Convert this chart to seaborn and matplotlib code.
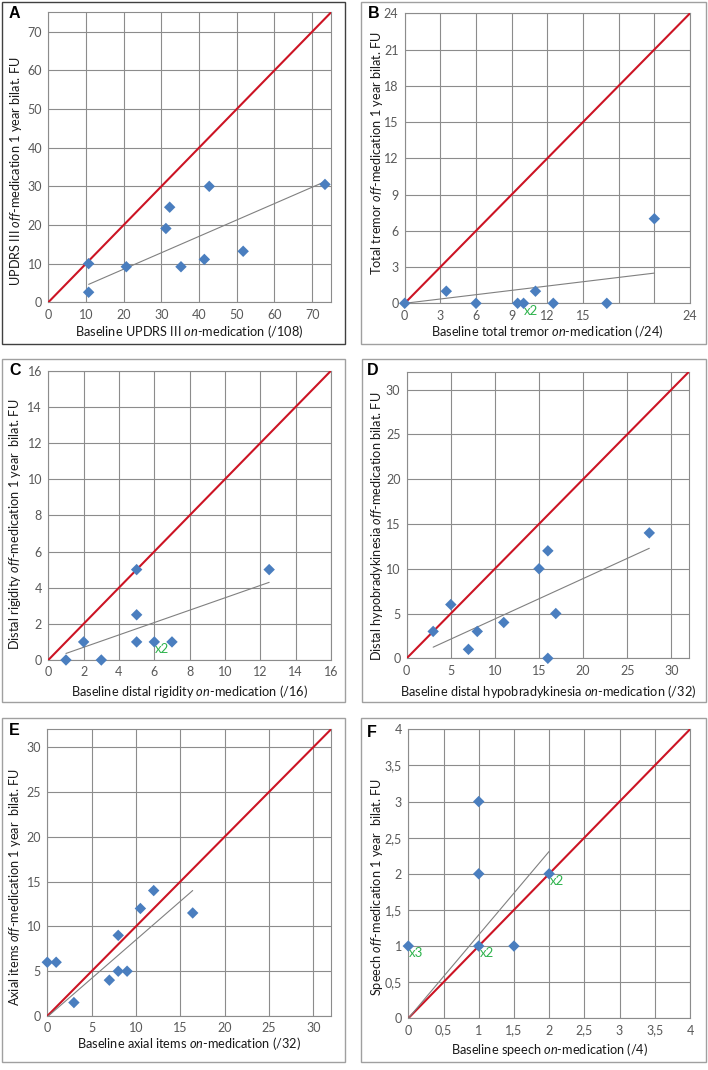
import numpy as np
import pandas as pd
import matplotlib
matplotlib.use("Agg")
import matplotlib.pyplot as plt
from matplotlib.patches import Rectangle
import seaborn as sns

# ---------------- data ----------------
a_x = [10.7, 10.7, 20.7, 31.2, 32.2, 35.2, 41.4, 42.7, 51.7, 73.4]
a_y = [10.0, 2.6, 9.2, 19.1, 24.6, 9.2, 11.1, 30.0, 13.2, 30.5]
a_trend = [0.424, 0.1]          # slope, intercept

b_x = [0, 3.5, 6, 9.5, 10, 11, 12.5, 17, 21]
b_y = [0, 1, 0, 0, 0, 1, 0, 0, 7]
b_trend = [0.119, 0.0]
b_dup_x = [10]
b_dup_y = [0]
b_dup_lbl = ["x2"]

c_x = [1, 2, 3, 5, 5, 5, 6, 7, 12.5]
c_y = [0, 1, 0, 5, 2.5, 1, 1, 1, 5]
c_trend = [0.342, 0.02]
c_dup_x = [6]
c_dup_y = [1]
c_dup_lbl = ["x2"]

d_x = [3, 5, 7, 8, 11, 15, 16, 16, 16.9, 27.5]
d_y = [3, 6, 1, 3, 4, 10, 12, 0, 5, 14]
d_trend = [0.4506, -0.11]

e_x = [0, 1, 3, 7, 8, 8, 9, 10.5, 12, 16.4]
e_y = [6, 6, 1.5, 4, 5, 9, 5, 12, 14, 11.5]
e_trend = [0.86, -0.1]

f_x = [0, 1, 1, 1, 1.5, 2]
f_y = [1, 1, 2, 3, 1, 2]
f_trend = [1.155, 0.0]
f_dup_x = [0, 1, 2]
f_dup_y = [1, 1, 2]
f_dup_lbl = ["x3", "x2", "x2"]

a_ticks = [0, 10, 20, 30, 40, 50, 60, 70]
b_ticks = [0, 3, 6, 9, 12, 15, 18, 21, 24]
b_xticklabels = ["0", "3", "6", "9", "12", "15", "", "", "24"]
c_ticks = [0, 2, 4, 6, 8, 10, 12, 14, 16]
d_ticks = [0, 5, 10, 15, 20, 25, 30]
f_ticks = [0, 0.5, 1, 1.5, 2, 2.5, 3, 3.5, 4]

a_lim = 75
b_lim = 24
c_lim = 16
d_lim = 32
e_lim = 32
f_lim = 4

a_xlabel = r"Baseline UPDRS III $\mathit{on}$-medication (/108)"
a_ylabel = r"UPDRS III $\mathit{off}$-medication 1 year bilat. FU"
b_xlabel = r"Baseline total tremor $\mathit{on}$-medication (/24)"
b_ylabel = r"Total tremor $\mathit{off}$-medication 1 year bilat. FU"
c_xlabel = r"Baseline distal rigidity $\mathit{on}$-medication (/16)"
c_ylabel = r"Distal rigidity $\mathit{off}$-medication 1 year  bilat. FU"
d_xlabel = r"Baseline distal hypobradykinesia $\mathit{on}$-medication (/32)"
d_ylabel = r"Distal hypobradykinesia $\mathit{off}$-medication bilat. FU"
e_xlabel = r"Baseline axial items $\mathit{on}$-medication (/32)"
e_ylabel = r"Axial items $\mathit{off}$-medication 1 year  bilat. FU"
f_xlabel = r"Baseline speech $\mathit{on}$-medication (/4)"
f_ylabel = r"Speech $\mathit{off}$-medication 1 year  bilat. FU"

# ---------------- style ----------------
sns.set_style("white")
plt.rcParams["font.family"] = ["Lato", "DejaVu Sans"]
plt.rcParams["mathtext.fontset"] = "custom"
plt.rcParams["mathtext.rm"] = "Lato"
plt.rcParams["mathtext.it"] = "Lato:italic"
plt.rcParams["mathtext.bf"] = "Lato:bold"

W, H = 708, 1070
fig = plt.figure(figsize=(W / 100, H / 100), dpi=100)

BLUE = "#4a7ebf"
RED = "#cc1424"
GRID = "#8c8c8c"
TREND = "#808080"
GREEN = "#2fb34d"
TICKC = "#595959"
LABEL_FS = 9.2
TICK_FS = 9.0


def px_rect(l, r, t, b):
    return [l / W, 1 - b / H, (r - l) / W, (b - t) / H]


panels = [
    dict(x=a_x, y=a_y, trend=a_trend, lim=a_lim, ticks=a_ticks, xtl=None, dec=False,
         xl=a_xlabel, yl=a_ylabel, rect=(48.3, 331, 12.4, 302.3), letter="A",
         lpos=(9, 18), box=(2, 345, 2, 344), boxc="#404040",
         xlab_y=331.7, ylab=(16, 171), dups=None),
    dict(x=b_x, y=b_y, trend=b_trend, lim=b_lim, ticks=b_ticks, xtl=b_xticklabels, dec=False,
         xl=b_xlabel, yl=b_ylabel, rect=(404.7, 690, 13.3, 303.3), letter="B",
         lpos=(368, 18), box=(361, 706, 2, 344), boxc="#a0a0a0",
         xlab_y=331.7, ylab=(377, 153), dups=(b_dup_x, b_dup_y, b_dup_lbl)),
    dict(x=c_x, y=c_y, trend=c_trend, lim=c_lim, ticks=c_ticks, xtl=None, dec=False,
         xl=c_xlabel, yl=c_ylabel, rect=(48.3, 331, 370.7, 660), letter="C",
         lpos=(9, 375), box=(2, 345, 359, 702), boxc="#a0a0a0",
         xlab_y=691.7, ylab=(15, 524), dups=(c_dup_x, c_dup_y, c_dup_lbl)),
    dict(x=d_x, y=d_y, trend=d_trend, lim=d_lim, ticks=d_ticks, xtl=None, dec=False,
         xl=d_xlabel, yl=d_ylabel, rect=(406.7, 689, 371.7, 658.3), letter="D",
         lpos=(367, 375), box=(362, 706, 359, 702), boxc="#a0a0a0",
         xlab_y=691.7, ylab=(377, 526), dups=None),
    dict(x=e_x, y=e_y, trend=e_trend, lim=e_lim, ticks=d_ticks, xtl=None, dec=False,
         xl=e_xlabel, yl=e_ylabel, rect=(47.3, 331, 729.3, 1016), letter="E",
         lpos=(9, 735), box=(2, 345, 718, 1062), boxc="#a0a0a0",
         xlab_y=1043, ylab=(15, 887), dups=None),
    dict(x=f_x, y=f_y, trend=f_trend, lim=f_lim, ticks=f_ticks, xtl=None, dec=True,
         xl=f_xlabel, yl=f_ylabel, rect=(408.3, 690, 729.3, 1018.3), letter="F",
         lpos=(367, 737), box=(361, 706, 718, 1062), boxc="#a0a0a0",
         xlab_y=1050, ylab=(377, 887), dups=(f_dup_x, f_dup_y, f_dup_lbl)),
]


def fmt(v, dec):
    if float(v).is_integer():
        return str(int(v))
    s = ("%g" % v)
    return s.replace(".", ",") if dec else s


for p in panels:
    # panel frame
    l, r, t, b = p["box"]
    fig.patches.append(Rectangle((l / W, 1 - b / H), (r - l) / W, (b - t) / H,
                                 transform=fig.transFigure, fill=False,
                                 edgecolor=p["boxc"], lw=1.0))
    ax = fig.add_axes(px_rect(*p["rect"]))
    lim = p["lim"]
    ax.set_xlim(0, lim)
    ax.set_ylim(0, lim)
    ax.set_xticks(p["ticks"])
    ax.set_yticks(p["ticks"])
    ax.set_xticklabels(p["xtl"] if p["xtl"] is not None else [fmt(v, p["dec"]) for v in p["ticks"]])
    ax.set_yticklabels([fmt(v, p["dec"]) for v in p["ticks"]])
    ax.grid(True, color=GRID, lw=0.8)
    ax.set_axisbelow(True)
    for s in ax.spines.values():
        s.set_color(GRID)
        s.set_linewidth(0.8)
    ax.tick_params(axis="both", length=3, width=0.8, color=GRID, colors=TICKC,
                   labelsize=TICK_FS, pad=1.5)
    ax.tick_params(axis="both", labelcolor=TICKC)

    # identity line
    ax.plot([0, lim], [0, lim], color=RED, lw=1.5, zorder=3)
    # trend line
    xs = np.array([min(p["x"]), max(p["x"])])
    slope, icpt = p["trend"]
    ax.plot(xs, slope * xs + icpt, color=TREND, lw=0.8, zorder=3)
    # points
    df = pd.DataFrame({"x": p["x"], "y": p["y"]})
    sns.scatterplot(data=df, x="x", y="y", ax=ax, marker="D", s=34, color=BLUE,
                    edgecolor="none", linewidth=0, zorder=4, clip_on=False)
    if p["dups"] is not None:
        for dx, dy, lb in zip(*p["dups"]):
            ax.annotate(lb, (dx, dy), xytext=(0.5, -1.0), textcoords="offset points",
                        ha="left", va="top", color=GREEN, fontsize=9.5, zorder=5)

    ax.set_xlabel(p["xl"], fontsize=LABEL_FS, color="#1a1a1a")
    ax.set_ylabel(p["yl"], fontsize=LABEL_FS, color="#1a1a1a")
    ax.xaxis.set_label_coords(((p["rect"][0] + p["rect"][1]) / 2) / W, 1 - p["xlab_y"] / H,
                              transform=fig.transFigure)
    ax.xaxis.label.set_va("center")
    ax.yaxis.set_label_coords(p["ylab"][0] / W, 1 - p["ylab"][1] / H, transform=fig.transFigure)
    ax.yaxis.label.set_va("center")

    fig.text(p["lpos"][0] / W, 1 - p["lpos"][1] / H, p["letter"], fontsize=11.5,
             fontweight="bold", family=["Liberation Sans", "DejaVu Sans"],
             ha="left", va="baseline", color="black")

fig.savefig("out.png", dpi=100)
